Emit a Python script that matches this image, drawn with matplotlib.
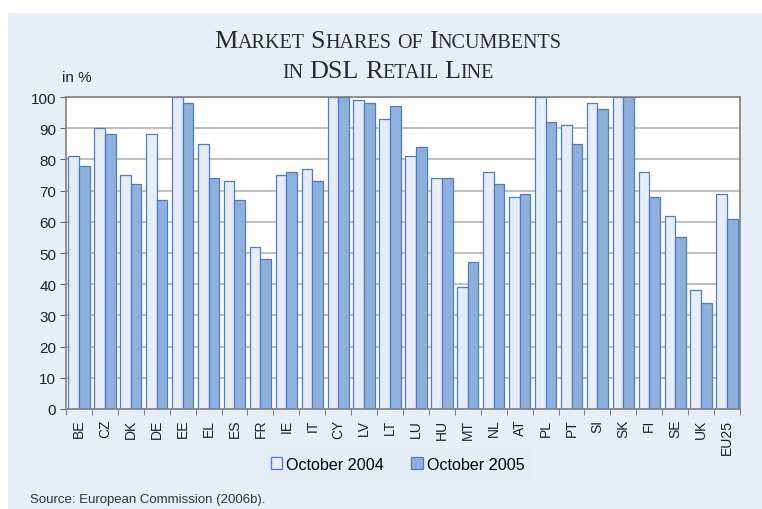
import numpy as np
import matplotlib
matplotlib.use("Agg")
from matplotlib import pyplot as plt
from matplotlib.patches import Rectangle

countries = ["BE", "CZ", "DK", "DE", "EE", "EL", "ES", "FR", "IE", "IT", "CY", "LV", "LT",
             "LU", "HU", "MT", "NL", "AT", "PL", "PT", "SI", "SK", "FI", "SE", "UK", "EU25"]
oct_2004 = [81, 90, 75, 88, 100, 85, 73, 52, 75, 77, 100, 99, 93,
            81, 74, 39, 76, 68, 100, 91, 98, 100, 76, 62, 38, 69]
oct_2005 = [78, 88, 72, 67, 98, 74, 67, 48, 76, 73, 100, 98, 97,
            84, 74, 47, 72, 69, 92, 85, 96, 100, 68, 55, 34, 61]

bg = "#e8eef8"
light = "#e6ecf8"
dark = "#8db0dc"
edge = "#4f7cc4"

plt.rcParams['font.family'] = ['Liberation Sans', 'DejaVu Sans']

fig = plt.figure(figsize=(7.62, 5.10), dpi=100, facecolor="white")
fig.patches.append(Rectangle((8 / 762, 0), 1, 1 - 14 / 510, transform=fig.transFigure,
                             facecolor=bg, edgecolor="none", zorder=-10))

ax = fig.add_axes([66 / 762, 100 / 510, 674 / 762, 312 / 510])
x = np.arange(len(countries))
w = 0.41
ax.bar(x - w / 2, oct_2004, w, color=light, edgecolor=edge, linewidth=0.9, label="October 2004", zorder=3)
ax.bar(x + w / 2, oct_2005, w, color=dark, edgecolor=edge, linewidth=0.9, label="October 2005", zorder=3)

ax.set_xlim(-0.5, len(countries) - 0.5)
ax.set_ylim(0, 100)
ax.set_yticks(range(0, 101, 10))
ax.tick_params(axis="y", labelsize=11, length=4, color="#666666", pad=3, labelcolor="#222222")
ax.set_xticks(x)
ax.set_xticklabels(countries, rotation=90, fontsize=10, color="#222222")
ax.set_xticks(np.arange(-0.5, len(countries)), minor=True)
ax.tick_params(axis="x", which="major", length=0, pad=7)
ax.tick_params(axis="x", which="minor", length=4, color="#666666")
ax.grid(axis="y", color="#b4b4b4", linewidth=1.2, zorder=0)
for s in ax.spines.values():
    s.set_color("#808080")
    s.set_linewidth(1.2)
    s.set_zorder(4)

ax.legend(loc="center", bbox_to_anchor=(0.492, -0.177), ncol=2, frameon=True,
          facecolor="#e4ecf6", edgecolor="none", fontsize=11.6, handlelength=0.7,
          handleheight=0.7, handletextpad=0.25, columnspacing=1.7, borderaxespad=0,
          borderpad=0.5)

fig.text(62 / 762, 1 - 82 / 510, "in %", fontsize=11, color="#222222")
fig.text(30 / 762, 1 - 503 / 510, "Source: European Commission (2006b).", fontsize=9.5, color="#333333")

# small-caps title built from pieces
renderer = fig.canvas.get_renderer()
big, small = 18.8, 14.5
lines = [
    [("M", big), ("ARKET", small), (" ", small), ("S", big), ("HARES", small), (" ", small),
     ("OF", small), (" ", small), ("I", big), ("NCUMBENTS", small)],
    [("IN", small), (" ", small), ("DSL", big), (" ", small), ("R", big), ("ETAIL", small),
     (" ", small), ("L", big), ("INE", small)],
]
for yb, parts in zip([1 - 48.5 / 510, 1 - 77.5 / 510], lines):
    widths = []
    for txt, sz in parts:
        if txt == " ":
            widths.append(sz * 100 / 72 * 0.3)
            continue
        t = fig.text(0, 0, txt, fontsize=sz, family="Liberation Serif")
        widths.append(t.get_window_extent(renderer).width)
        t.remove()
    px = 388 - sum(widths) / 2
    for (txt, sz), wd in zip(parts, widths):
        if txt != " ":
            fig.text(px / 762, yb, txt, fontsize=sz, family="Liberation Serif",
                     color="#2a2a2a", va="baseline")
        px += wd

fig.savefig("out.png", dpi=100, facecolor=fig.get_facecolor())
